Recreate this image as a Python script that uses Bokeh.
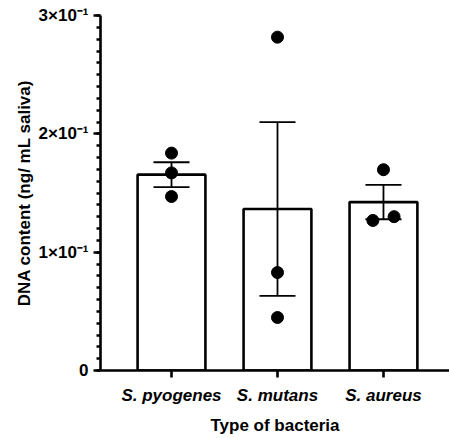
from bokeh.plotting import figure
from bokeh.models import ColumnDataSource, FixedTicker, Range1d
from bokeh.embed import file_html
from bokeh.resources import INLINE
import numpy as np

# ---- data ----
categories = ["S. pyogenes", "S. mutans", "S. aureus"]
means = [0.1655, 0.1365, 0.1423]
sems = [0.0105, 0.0734, 0.0145]
points_pyogenes = [0.1837, 0.1670, 0.1470]
points_mutans = [0.2817, 0.0828, 0.0448]
points_aureus = [0.1697, 0.1268, 0.1300]
jitter_pyogenes = [0.0, 0.0, 0.0]
jitter_mutans = [0.0, 0.0, 0.0]
jitter_aureus = [0.0, -0.10, 0.10]
y_ticks = [0, 0.1, 0.2, 0.3]
y_tick_labels = ["0", "1×10⁻¹", "2×10⁻¹", "3×10⁻¹"]

FONT = "Liberation Sans"
BAR_W = 0.64
CAP_HALF = 0.17

xs = [i + 1 for i in range(len(categories))]
upper = [m + s for m, s in zip(means, sems)]
lower = [m - s for m, s in zip(means, sems)]
bar_src = ColumnDataSource(dict(
    x=xs, top=means, upper=upper, lower=lower,
    cl=[x - CAP_HALF for x in xs], cr=[x + CAP_HALF for x in xs],
))

px, py = [], []
for i, (pts, jit) in enumerate(zip([points_pyogenes, points_mutans, points_aureus],
                                   [jitter_pyogenes, jitter_mutans, jitter_aureus])):
    for v, j in zip(pts, jit):
        px.append(xs[i] + j)
        py.append(v)
pt_src = ColumnDataSource(dict(x=px, y=py))

p = figure(width=449, height=438, output_backend="svg", toolbar_location=None,
           x_range=Range1d(0.330, 3.623), y_range=Range1d(0, 0.3),
           min_border_left=100, min_border_right=0, min_border_top=15,
           min_border_bottom=68)
p.outline_line_color = None
p.xgrid.visible = False
p.ygrid.visible = False
p.background_fill_color = "white"
p.border_fill_color = "white"

p.vbar(x="x", top="top", bottom=0, width=BAR_W, source=bar_src,
       fill_color="white", line_color="black", line_width=2.6)

# error bars (mean ± SEM)
p.segment(x0="x", y0="lower", x1="x", y1="upper", source=bar_src,
          line_color="black", line_width=1.8)
p.segment(x0="cl", y0="upper", x1="cr", y1="upper", source=bar_src,
          line_color="black", line_width=1.8)
p.segment(x0="cl", y0="lower", x1="cr", y1="lower", source=bar_src,
          line_color="black", line_width=1.8)

p.scatter(x="x", y="y", source=pt_src, size=12, color="black")

# y axis
yax = p.yaxis[0]
yax.ticker = FixedTicker(ticks=y_ticks, minor_ticks=list(np.round(np.arange(0, 0.3001, 0.01), 3)))
yax.major_label_overrides = {t: l for t, l in zip(y_ticks, y_tick_labels)}
yax.axis_line_width = 2.6
yax.major_tick_line_width = 2.6
yax.minor_tick_line_width = 2.6
yax.major_tick_in = 0
yax.major_tick_out = 7
yax.minor_tick_in = 0
yax.minor_tick_out = 4
yax.major_label_text_font = FONT
yax.major_label_text_font_style = "bold"
yax.major_label_text_font_size = "17px"
yax.major_label_text_color = "black"
yax.major_label_standoff = 5
yax.axis_label = "DNA content (ng/ mL saliva)"
yax.axis_label_text_font = FONT
yax.axis_label_text_font_style = "bold"
yax.axis_label_text_font_size = "17px"
yax.axis_label_text_color = "black"
yax.axis_label_standoff = 2

# x axis
xax = p.xaxis[0]
xax.ticker = FixedTicker(ticks=xs, minor_ticks=[])
xax.major_label_overrides = {x: c for x, c in zip(xs, categories)}
xax.axis_line_width = 2.6
xax.major_tick_line_width = 2.6
xax.major_tick_in = 0
xax.major_tick_out = 7
xax.minor_tick_in = 0
xax.minor_tick_out = 0
xax.major_label_text_font = FONT
xax.major_label_text_font_style = "bold italic"
xax.major_label_text_font_size = "17px"
xax.major_label_text_color = "black"
xax.major_label_standoff = 8
xax.axis_label = "Type of bacteria"
xax.axis_label_text_font = FONT
xax.axis_label_text_font_style = "bold"
xax.axis_label_text_font_size = "17px"
xax.axis_label_text_color = "black"
xax.axis_label_standoff = 8

open("out.html", "w").write(file_html(p, INLINE))
